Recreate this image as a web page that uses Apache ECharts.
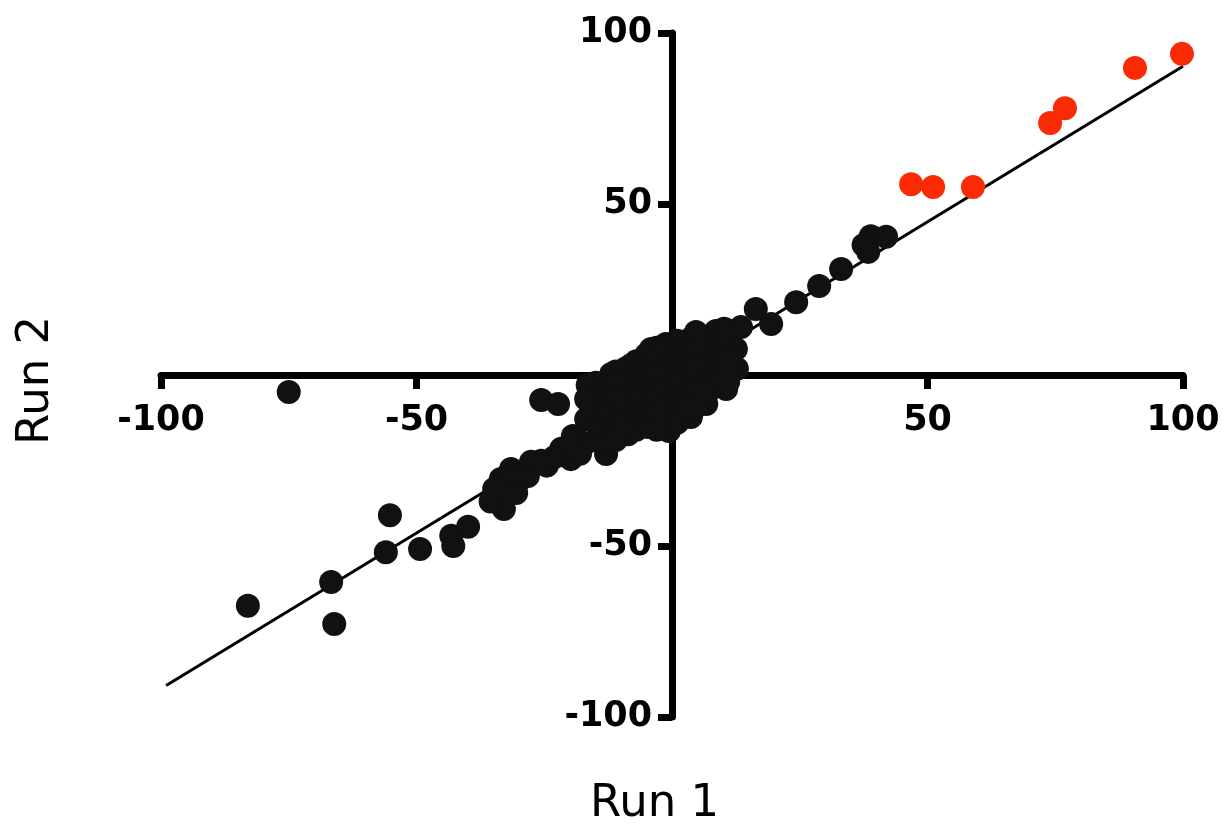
<!DOCTYPE html>
<html>
<head>
<meta charset="utf-8">
<title>Run 1 vs Run 2</title>
<script src="https://cdn.jsdelivr.net/npm/echarts@6/dist/echarts.min.js"></script>
<style>
html,body{margin:0;padding:0;background:#fff;}
#main{width:1223px;height:835px;}
</style>
</head>
<body>
<div id="main"></div>
<script>
// 点：黑色（普通）
var blackPoints = [
    // 中心团：边缘
    [-14.9,-2.3],[-11.9,0.3],[-8,2.9],[-4.1,7.6],[-1.2,9.1],[4.3,11.4],[8.6,12.9],[11.5,12.9],[12.5,7.6],[12.7,1.8],
    [10.6,-4.1],[6.7,-8.5],[3.7,-12.3],[-0.6,-16.4],[-4.7,-15.2],[-8.6,-17.3],[-12.9,-23.1],[-19.8,-24.6],[-21.7,-21.6],
    [-19.4,-17.8],[-16.8,-12.9],[-16.8,-7],[-17,-20],[-15,-19],[-20,-20.5],[-18,-23],[-14,-15],[-16.5,-3],
    // 中心团：内部
    [-15,-6],[-15,-10],
    [-13,-4],[-13,-8],[-13,-12],[-13,-16],[-13,-20],
    [-11,1],[-11,-3],[-11,-7],[-11,-11],[-11,-15],[-11,-19],
    [-9,2],[-9,-2],[-9,-6],[-9,-10],[-9,-14],
    [-7,4],[-7,0],[-7,-4],[-7,-8],[-7,-12],[-7,-16],
    [-5,6],[-5,2],[-5,-2],[-5,-6],[-5,-10],[-5,-14],
    [-3,8],[-3,4],[-3,0],[-3,-4],[-3,-8],[-3,-12],[-3,-16],
    [-1,8],[-1,4],[-1,0],[-1,-4],[-1,-8],[-1,-12],
    [1,10],[1,6],[1,2],[1,-2],[1,-6],[1,-10],[1,-14],
    [3,10],[3,6],[3,2],[3,-2],[3,-6],[3,-10],
    [5,11],[5,7],[5,3],[5,-1],[5,-5],[5,-9],
    [7,11],[7,7],[7,3],[7,-1],[7,-5],
    [9,11],[9,7],[9,3],[9,-1],
    [11,9],[11,5],[11,1],[11,-2],
    // 左下
    [-34.8,-33.3],[-31.5,-27.5],[-27.6,-25.4],[-32.9,-39.2],[-35.5,-37],[-28.2,-29.5],[-30,-31],[-24.5,-26.5],[-33.5,-30.4],
    [-34.4,-33.3],[-23,-24],[-30.5,-34.5],[-25.6,-25.1],
    [-43.2,-47],[-39.9,-44.4],[-42.8,-50],
    [-55.2,-41],[-56,-51.8],[-49.3,-50.9],[-66.7,-60.5],[-83,-67.5],[-66.1,-72.8],
    [-75,-5],[-25.6,-7.3],[-22.3,-8.5],
    // 右上
    [4.7,12.6],[10.2,13.5],[13.5,14],[16.4,19.3],[19.4,14.9],[24.3,21.3],[28.8,26],[33.1,31],[38.4,36],[38.9,40.6],[41.9,40.4],[37.5,38]
];
// 点：红色
var redPoints = [[46.8,55.8],[51.1,55],[58.9,55],[74,73.7],[76.9,78],[90.6,89.8],[99.8,93.9]];
// 拟合线
var fitLine = [[-99,-90.8],[100,90.3]];
var axisTicks = [-100,-50,0,50,100];

var gridBox = {left:161, right:40, top:33, bottom:118};
var chartW = 1223, chartH = 835;

var myChart = echarts.init(document.getElementById('main'));

function tickLabel(v){
    return v===0 ? '' : String(v);
}

function makeAxis(pos, offset, margin){
    return {
        type: 'value',
        position: pos,
        offset: offset,
        min: axisTicks[0],
        max: axisTicks[axisTicks.length-1],
        interval: 50,
        splitLine: {show:false},
        axisLine: {show:true, onZero:false, lineStyle:{color:'#000', width:7}},
        axisTick: {show:true, inside:false, length:14, lineStyle:{color:'#000', width:7}},
        axisLabel: {
            formatter: tickLabel,
            margin: margin,
            color:'#000',
            fontFamily:'DejaVu Sans',
            fontWeight:'bold',
            fontSize:35
        }
    };
}

// 轴移到 0 处（包括刻度标签）
var halfH = (chartH - gridBox.top - gridBox.bottom)/2;
var halfW = (chartW - gridBox.left - gridBox.right)/2;

var option = {
    backgroundColor:'#fff',
    animation:false,
    grid:gridBox,
    xAxis: makeAxis('bottom', -halfH, 28),
    yAxis: makeAxis('left', -halfW, 20),
    graphic:[
        {type:'text', left:590, top:782, style:{text:'Run 1', font:'45px "DejaVu Sans"', fill:'#000'}},
        {type:'text', x:14, y:445, rotation:Math.PI/2, style:{text:'Run 2', font:'45px "DejaVu Sans"', fill:'#000'}}
    ],
    series:[
        {
            type:'line',
            data:fitLine,
            symbol:'none',
            lineStyle:{color:'#000', width:3},
            z:1
        },
        {
            type:'scatter',
            data:blackPoints,
            symbolSize:24,
            itemStyle:{color:'#111', opacity:1},
            z:2
        },
        {
            type:'scatter',
            data:redPoints,
            symbolSize:24,
            itemStyle:{color:'#fa2a05', opacity:1},
            z:3
        }
    ]
};

myChart.setOption(option);
</script>
</body>
</html>
